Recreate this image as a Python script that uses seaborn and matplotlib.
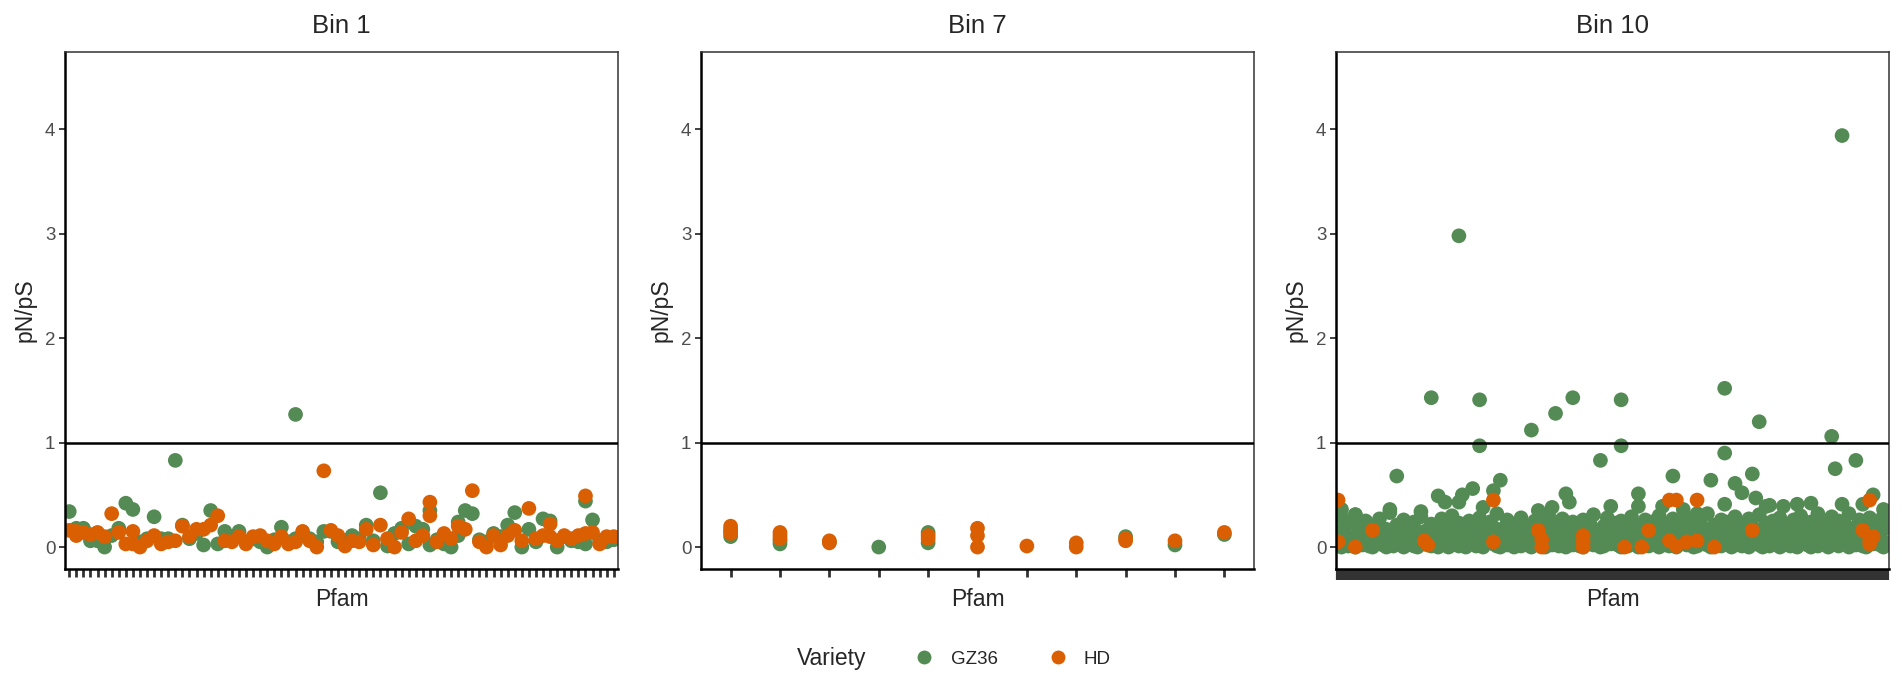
import pandas as pd
import matplotlib
matplotlib.use("Agg")
import matplotlib.pyplot as plt
from matplotlib.lines import Line2D
import seaborn as sns

varietes = ["GZ36", "HD"]
couleurs = {"GZ36": "#548B54", "HD": "#D95F02"}
titres = ["Bin 1", "Bin 7", "Bin 10"]

# Bin 1 : valeurs pN/pS par Pfam (78 Pfam)
bin1_gz36 = [[0.34], [0.18], [0.18], [0.06], [0.06], [0.00], [0.11], [0.18], [0.42], [0.36],
             [0.05], [0.08], [0.29], [0.08], [0.08], [0.83], [0.21], [0.08], [0.13], [0.02],
             [0.35], [0.03], [0.15], [0.10], [0.15], [0.05], [0.08], [0.05], [0.00], [0.07],
             [0.19], [0.05], [1.27, 0.08], [0.11], [0.08], [0.05], [0.15], [0.15], [0.05], [0.06],
             [0.11], [0.08], [0.21], [0.06], [0.52], [0.01], [0.13], [0.18], [0.03], [0.20],
             [0.17], [0.35, 0.02], [0.07], [0.03], [0.00], [0.24, 0.11], [0.35], [0.32], [0.07], [0.05],
             [0.13], [0.10], [0.21], [0.33], [0.00], [0.17], [0.05], [0.27], [0.25], [0.00],
             [0.10], [0.06], [0.05], [0.44, 0.03], [0.26], [0.06], [0.05], [0.07]]
bin1_hd = [[0.16], [0.11, 0.15], [0.14], [0.12], [0.14], [0.10], [0.32], [0.14], [0.03], [0.15, 0.03],
           [0.00], [0.06], [0.11], [0.03], [0.05], [0.06], [0.20], [0.10], [0.17], [0.17],
           [0.21], [0.30], [0.06], [0.05], [0.10], [0.03], [0.10], [0.11], [0.06], [0.03],
           [0.10], [0.03], [0.05], [0.15], [0.06], [0.00], [0.73], [0.16], [0.11], [0.01],
           [0.06], [0.05], [0.17], [0.02], [0.21], [0.08], [0.00], [0.14], [0.27], [0.06],
           [0.11], [0.43, 0.30], [0.05], [0.13], [0.08], [0.20], [0.17], [0.54], [0.05], [0.00],
           [0.11], [0.02], [0.11], [0.16], [0.06], [0.37], [0.08], [0.11], [0.22, 0.10], [0.06],
           [0.11], [0.08], [0.11], [0.49, 0.13], [0.14], [0.03], [0.10], [0.10]]

# Bin 7 : 11 Pfam
bin7_gz36 = [[0.10, 0.15], [0.03, 0.06], [0.05], [0.00], [0.14, 0.04], [], [], [], [0.10], [0.02], [0.12]]
bin7_hd = [[0.20, 0.17, 0.13], [0.14, 0.11, 0.08], [0.06, 0.04], [], [0.11, 0.08],
           [0.18, 0.11, 0.00], [0.01], [0.04, 0.00], [0.08, 0.06], [0.06], [0.14]]

# Bin 10 : 160 Pfam
bin10_gz36_bas = [
    0.02, 0.00, 0.05, 0.01, 0.03, 0.00, 0.04, 0.02, 0.06, 0.01,
    0.00, 0.03, 0.05, 0.02, 0.00, 0.04, 0.01, 0.06, 0.03, 0.00,
    0.02, 0.05, 0.01, 0.00, 0.04, 0.03, 0.06, 0.01, 0.02, 0.00,
    0.05, 0.03, 0.00, 0.02, 0.04, 0.01, 0.06, 0.00, 0.03, 0.05,
    0.01, 0.02, 0.00, 0.04, 0.06, 0.03, 0.01, 0.00, 0.05, 0.02,
    0.04, 0.00, 0.03, 0.01, 0.06, 0.02, 0.00, 0.05, 0.03, 0.01,
    0.00, 0.04, 0.02, 0.06, 0.01, 0.03, 0.00, 0.05, 0.02, 0.04,
    0.01, 0.00, 0.06, 0.03, 0.02, 0.05, 0.00, 0.01, 0.04, 0.03,
    0.06, 0.02, 0.00, 0.05, 0.01, 0.03, 0.04, 0.00, 0.02, 0.06,
    0.01, 0.05, 0.03, 0.00, 0.04, 0.02, 0.01, 0.06, 0.00, 0.03,
    0.05, 0.02, 0.04, 0.00, 0.01, 0.06, 0.03, 0.02, 0.00, 0.05,
    0.04, 0.01, 0.03, 0.06, 0.00, 0.02, 0.05, 0.01, 0.04, 0.00,
    0.03, 0.06, 0.02, 0.00, 0.05, 0.01, 0.04, 0.03, 0.00, 0.02,
    0.06, 0.01, 0.05, 0.00, 0.03, 0.04, 0.02, 0.00, 0.06, 0.01,
    0.03, 0.05, 0.00, 0.02, 0.04, 0.01, 0.06, 0.03, 0.00, 0.05,
    0.02, 0.04, 0.01, 0.00, 0.06, 0.03, 0.05, 0.02, 0.00, 0.04]
bin10_gz36_milieu = [
    0.15, 0.28, 0.11, 0.22, 0.09, 0.31, 0.18, 0.13, 0.25, 0.10,
    0.20, 0.14, 0.27, 0.12, 0.17, 0.33, 0.09, 0.21, 0.16, 0.26,
    0.11, 0.19, 0.24, 0.13, 0.29, 0.15, 0.08, 0.22, 0.18, 0.12,
    0.27, 0.10, 0.20, 0.30, 0.14, 0.23, 0.17, 0.09, 0.25, 0.13,
    0.21, 0.28, 0.11, 0.16, 0.24, 0.19, 0.32, 0.12, 0.18, 0.26,
    0.10, 0.22, 0.15, 0.28, 0.13, 0.20, 0.09, 0.25, 0.17, 0.23,
    0.12, 0.30, 0.16, 0.21, 0.11, 0.27, 0.19, 0.14, 0.24, 0.10,
    0.18, 0.26, 0.13, 0.22, 0.31, 0.15, 0.09, 0.20, 0.28, 0.12,
    0.23, 0.17, 0.25, 0.11, 0.19, 0.29, 0.14, 0.21, 0.08, 0.26,
    0.16, 0.24, 0.12, 0.30, 0.18, 0.22, 0.10, 0.27, 0.15, 0.20,
    0.25, 0.13, 0.19, 0.28, 0.11, 0.23, 0.17, 0.32, 0.14, 0.21,
    0.09, 0.26, 0.18, 0.24, 0.12, 0.29, 0.16, 0.22, 0.10, 0.27,
    0.20, 0.14, 0.31, 0.17, 0.23, 0.11, 0.25, 0.19, 0.28, 0.13,
    0.21, 0.09, 0.26, 0.16, 0.30, 0.18, 0.12, 0.24, 0.20, 0.27,
    0.14, 0.22, 0.10, 0.29, 0.17, 0.25, 0.13, 0.21, 0.32, 0.15,
    0.19, 0.26, 0.11, 0.23, 0.28, 0.16, 0.24, 0.12, 0.30, 0.18]
bin10_gz36_haut_pfam = [146, 35, 27, 41, 41, 56, 63, 68, 82, 82, 76, 112, 112, 122, 143, 144, 150,
                        17, 97, 108, 115, 120, 117, 121, 47, 45, 39, 36, 35, 29, 31, 66, 67, 87, 87,
                        79, 62, 58, 112, 146, 152, 155, 158, 133, 137, 125, 129, 124, 15, 5, 1, 24,
                        94, 100, 104, 42, 139]
bin10_gz36_haut_val = [3.94, 2.98, 1.43, 1.41, 0.97, 1.12, 1.28, 1.43, 1.41, 0.97, 0.83, 1.52, 0.90,
                       1.20, 1.06, 0.75, 0.83, 0.68, 0.68, 0.64, 0.61, 0.70, 0.52, 0.47, 0.64, 0.54,
                       0.56, 0.50, 0.43, 0.49, 0.43, 0.51, 0.43, 0.51, 0.39, 0.39, 0.38, 0.35, 0.41,
                       0.41, 0.41, 0.50, 0.36, 0.41, 0.42, 0.40, 0.39, 0.39, 0.36, 0.31, 0.36, 0.34,
                       0.39, 0.36, 0.32, 0.38, 0.32]
bin10_hd_pfam = [0, 0, 5, 10, 25, 26, 45, 45, 58, 59, 59, 71, 71, 71, 83, 88, 90, 96, 98, 96,
                 98, 101, 104, 104, 109, 120, 152, 154, 154, 155, 154]
bin10_hd_val = [0.45, 0.05, 0.00, 0.16, 0.06, 0.02, 0.45, 0.05, 0.16, 0.07, 0.00, 0.11, 0.05, 0.00,
                0.00, 0.00, 0.16, 0.45, 0.45, 0.06, 0.01, 0.05, 0.06, 0.45, 0.00, 0.16, 0.16, 0.45,
                0.07, 0.10, 0.03]


def tableau(listes_gz36, listes_hd):
    lignes = []
    for variete, listes in (("GZ36", listes_gz36), ("HD", listes_hd)):
        for pfam, valeurs in enumerate(listes):
            for v in valeurs:
                lignes.append({"Pfam": pfam, "pNpS": v, "Variety": variete})
    return pd.DataFrame(lignes)


df_bin1 = tableau(bin1_gz36, bin1_hd)
df_bin7 = tableau(bin7_gz36, bin7_hd)

n_bin10 = len(bin10_gz36_bas)
df_bin10 = pd.concat([
    pd.DataFrame({"Pfam": range(n_bin10), "pNpS": bin10_gz36_bas, "Variety": "GZ36"}),
    pd.DataFrame({"Pfam": range(n_bin10), "pNpS": bin10_gz36_milieu, "Variety": "GZ36"}),
    pd.DataFrame({"Pfam": bin10_gz36_haut_pfam, "pNpS": bin10_gz36_haut_val, "Variety": "GZ36"}),
    pd.DataFrame({"Pfam": bin10_hd_pfam, "pNpS": bin10_hd_val, "Variety": "HD"}),
], ignore_index=True)

sns.set_style("white")
plt.rcParams["font.family"] = ["Liberation Sans", "DejaVu Sans"]

W, H = 1902, 680
fig = plt.figure(figsize=(W / 100, H / 100), dpi=100)
gauches = [65, 701, 1336]
donnees = [(df_bin1, len(bin1_gz36)), (df_bin7, len(bin7_gz36)), (df_bin10, n_bin10)]

for k, (titre, (df, n)) in enumerate(zip(titres, donnees)):
    ax = fig.add_axes([gauches[k] / W, 111 / H, 553 / W, 517 / H])
    sns.scatterplot(data=df, x="Pfam", y="pNpS", hue="Variety", hue_order=varietes,
                    palette=couleurs, s=112, linewidth=0, alpha=1, legend=False, ax=ax)
    ax.axhline(1, color="black", lw=1.8, zorder=3)
    ax.set_xlim(-0.6, n - 0.4)
    ax.set_ylim(-0.21, 4.74)
    ax.set_xticks(range(n))
    ax.set_xticklabels([])
    ax.set_yticks([0, 1, 2, 3, 4])
    ax.set_yticklabels(["0", "1", "2", "3", "4"])
    dense = n > 100
    ax.tick_params(axis="x", length=8 if dense else 6, width=3.0 if dense else 2.0,
                   color="#333333", bottom=True)
    ax.tick_params(axis="y", length=4, width=1.3, color="#333333", left=True,
                   labelsize=13.5, labelcolor="#4D4D4D", pad=3)
    for cote in ["left", "bottom"]:
        ax.spines[cote].set_color("black")
        ax.spines[cote].set_linewidth(1.8)
    for cote in ["top", "right"]:
        ax.spines[cote].set_color("#333333")
        ax.spines[cote].set_linewidth(1.1)
    ax.set_title(titre, fontsize=18.5, pad=14)
    ax.set_xlabel("Pfam", fontsize=16.5, labelpad=2 if dense else 4)
    ax.set_ylabel("pN/pS", fontsize=16.5, labelpad=6)

# Légende en bas
fig.text(797 / W, 21 / H, "Variety", fontsize=16.5, va="center", ha="left")
poignees = [Line2D([], [], marker="o", linestyle="", markersize=10, markeredgewidth=0,
                   markerfacecolor=couleurs[v]) for v in varietes]
fig.legend(poignees, varietes, loc="center left", bbox_to_anchor=(898 / W, 21 / H), ncol=2,
           frameon=False, fontsize=13.5, handletextpad=0.4, columnspacing=2.2, borderaxespad=0)

fig.savefig("out.png", dpi=100, facecolor="white")
